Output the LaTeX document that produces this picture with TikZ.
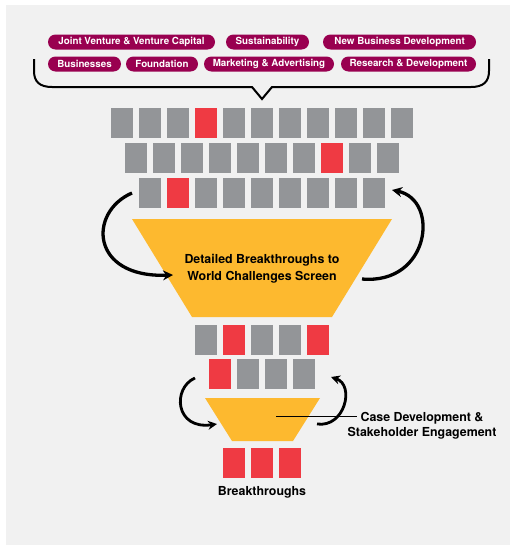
\documentclass[tikz,border=0pt]{standalone}
\usepackage{fontspec}
\setmainfont{TeX Gyre Heros}
\usetikzlibrary{arrows.meta}
\definecolor{bgc}{HTML}{F1F1F1}
\definecolor{sqgray}{HTML}{939598}
\definecolor{sqred}{HTML}{EF3A43}
\definecolor{funnelc}{HTML}{FDB92F}
\definecolor{pillc}{HTML}{990050}
\tikzset{
  pill/.style={fill=pillc, text=white, rounded corners=7.5pt, minimum height=15pt, inner sep=0pt, font=\fontsize{9.8}{11}\selectfont\bfseries},
  sqbox/.style={fill=sqgray, minimum width=22pt, minimum height=30pt, inner sep=0pt},
  sqhot/.style={sqbox, fill=sqred},
  bigarrow/.style={line width=3.3pt, -{Stealth[length=10pt,width=10pt]}},
  smallarrow/.style={line width=2.8pt, -{Stealth[length=9pt,width=9pt]}},
  lbl/.style={font=\fontsize{12.4}{17}\selectfont\bfseries, text=black, align=center, inner sep=0pt},
}
\begin{document}
\begin{tikzpicture}[x=1pt,y=-1pt]
\useasboundingbox (0,0) rectangle (510,546);
\fill[bgc] (6,5) rectangle (510,545);
% pills
\node[pill, minimum width=167pt] (p1) at (131.5,42) {Joint Venture \& Venture Capital};
\node[pill, minimum width=83pt] (p2) at (267.5,42) {Sustainability};
\node[pill, minimum width=153pt] (p3) at (399.5,42) {New Business Development};
\node[pill, minimum width=73pt] (p4) at (84.5,64) {Businesses};
\node[pill, minimum width=72pt] (p5) at (162,64) {Foundation};
\node[pill, minimum width=130pt] (p6) at (269,64) {Marketing \& Advertising};
\node[pill, minimum width=135pt] (p7) at (408.5,64) {Research \& Development};
% brace
\draw[line width=2pt, line join=miter] (34,59) -- (34,71) .. controls (34,82) and (40,87) .. (52,87) -- (252,87) -- (262,99) -- (272,87) -- (471,87) .. controls (483,87) and (489,82) .. (489,71) -- (489,59);
% squares rows
\foreach \i in {0,...,10} { \ifnum\i=3 \node[sqhot] (a\i) at (122+28*\i,123) {}; \else \node[sqbox] (a\i) at (122+28*\i,123) {}; \fi }
\foreach \i in {0,...,9} { \ifnum\i=7 \node[sqhot] (b\i) at (136+28*\i,158) {}; \else \node[sqbox] (b\i) at (136+28*\i,158) {}; \fi }
\foreach \i in {0,...,8} { \ifnum\i=1 \node[sqhot] (c\i) at (150+28*\i,193) {}; \else \node[sqbox] (c\i) at (150+28*\i,193) {}; \fi }
% funnel 1
\fill[funnelc] (132,219) -- (392,219) -- (332,317) -- (192,317) -- cycle;
\node[lbl] (f1) at (262,268.5) {Detailed Breakthroughs to\\World Challenges Screen};
% rows below
\node[sqbox] (d0) at (206,339.5) {};
\node[sqhot] (d1) at (234,339.5) {};
\node[sqbox] (d2) at (262,339.5) {};
\node[sqbox] (d3) at (290,339.5) {};
\node[sqhot] (d4) at (318,339.5) {};
\node[sqhot] (e0) at (220,374) {};
\node[sqbox] (e1) at (248,374) {};
\node[sqbox] (e2) at (276,374) {};
\node[sqbox] (e3) at (304,374) {};
% funnel 2
\fill[funnelc] (205,398) -- (320,398) -- (293,441) -- (232,441) -- cycle;
\coordinate (f2in) at (276,416);
\coordinate (f2out) at (357,416);
\node[lbl, font=\fontsize{12.4}{15}\selectfont\bfseries] (cd) at (422,425.5) {Case Development \&\\Stakeholder Engagement};
\draw[line width=0.8pt] (f2in) -- (f2out);
% final
\node[sqhot] (g0) at (234,463) {};
\node[sqhot] (g1) at (262,463) {};
\node[sqhot] (g2) at (290,463) {};
\node[lbl, anchor=base] (bt) at (262,495) {Breakthroughs};
% arrows
\coordinate (la1) at (132,193); \coordinate (la2) at (173,275);
\coordinate (ra1) at (362,279); \coordinate (ra2) at (392,190);
\coordinate (lb1) at (195,378); \coordinate (lb2) at (217,424);
\coordinate (rb1) at (317,424); \coordinate (rb2) at (331,377);
\draw[bigarrow] (la1) .. controls (88,212) and (90,278) .. (la2);
\draw[bigarrow] (ra1) .. controls (430,285) and (440,200) .. (ra2);
\draw[smallarrow] (lb1) .. controls (172,388) and (175,430) .. (lb2);
\draw[smallarrow] (rb1) .. controls (345,428) and (355,385) .. (rb2);
\end{tikzpicture}
\end{document}
